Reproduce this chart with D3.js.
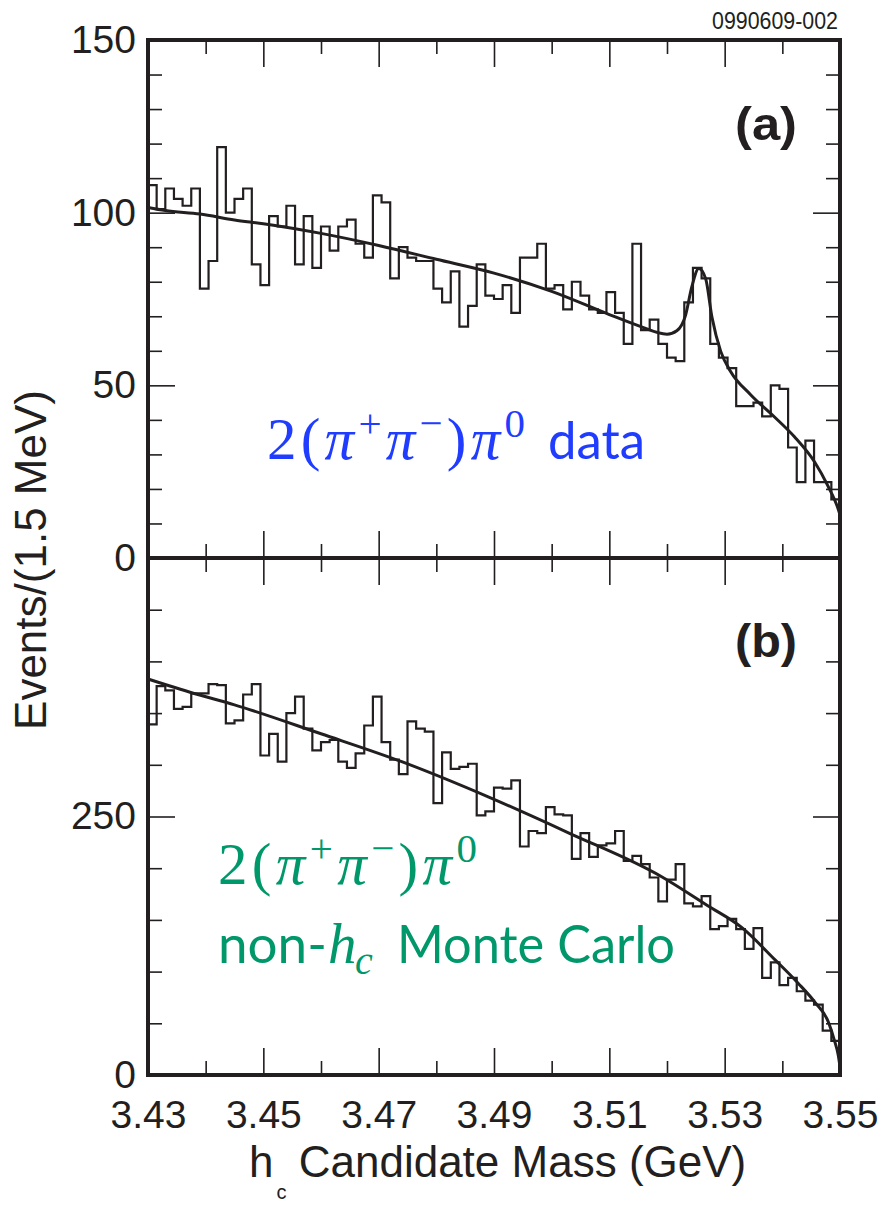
<!DOCTYPE html>
<html>
<head>
<meta charset="utf-8">
<script src="https://cdn.jsdelivr.net/npm/d3@7"></script>
<style>
  body { margin: 0; background: #fff; }
  svg text { font-family: "Liberation Sans", Arial, Helvetica, sans-serif; }
</style>
</head>
<body>
<div id="chart"></div>
<script>
// 1.5 MeV bins from 3.430 to 3.550 GeV
const binStart = 3.43;
const binWidth = 0.0015;

// (a) 2(pi+pi-)pi0 data, events per bin
const countsData = [
  108, 101, 107, 104, 102, 107, 78, 86, 119, 100,
  104, 107, 85, 79, 99, 96, 102, 85, 99, 84,
  96, 89, 96, 98, 91, 87, 105, 103, 81, 90,
  87, 86, 86, 78, 74, 83, 67, 73, 85, 76,
  75, 79, 71, 87, 87, 91, 78, 79, 72, 80,
  76, 72, 71, 77, 71, 62, 91, 66, 69, 62,
  58, 57, 74, 84, 81, 62, 58, 55, 44, 44,
  45, 41, 50, 49, 32, 22, 34, 22, 22, 17
];

// (b) non-hc Monte Carlo, events per bin
const countsMC = [
  339, 376, 372, 354, 356, 369, 369, 378, 377, 340,
  343, 368, 378, 309, 330, 303, 350, 366, 335, 314,
  322, 324, 303, 297, 311, 338, 366, 322, 305, 291,
  342, 335, 332, 263, 312, 296, 298, 301, 251, 255,
  278, 277, 285, 221, 236, 234, 259, 252, 251, 209,
  234, 211, 222, 224, 236, 207, 212, 204, 191, 168,
  189, 204, 166, 163, 173, 141, 144, 151, 141, 122,
  142, 94, 109, 87, 94, 81, 72, 68, 43, 33
];

// fitted curves
const fitDataX = [3.430, 3.433, 3.439, 3.445, 3.450, 3.460, 3.470, 3.480, 3.490, 3.500,
  3.510, 3.515, 3.520, 3.5217, 3.5232, 3.5243, 3.5255, 3.5267, 3.5278, 3.5293,
  3.5310, 3.5345, 3.5386, 3.5421, 3.5456, 3.5479, 3.5497, 3.5500];
const fitDataY = [101.5, 100.6, 99.6, 97.9, 96.8, 94.0, 90.5, 86.5, 82.5, 77.2,
  70.5, 67.3, 64.8, 65.8, 70.2, 78.5, 83.8, 80.9, 69.7, 59.9,
  54.1, 47.3, 40.9, 35.1, 27.8, 20.9, 14.1, 12.5];

const fitMCX = [3.430, 3.438, 3.445, 3.460, 3.474, 3.489, 3.503, 3.519, 3.527, 3.533,
  3.5387, 3.5427, 3.5457, 3.548, 3.549, 3.5497, 3.550];
const fitMCY = [383, 369, 358, 330, 303, 269, 234, 192, 164, 142.5,
  111.6, 89, 70, 51, 34, 19, 8];

// ticks
const xMajor = [3.43, 3.45, 3.47, 3.49, 3.51, 3.53, 3.55];
const xMinor = [3.44, 3.46, 3.48, 3.50, 3.52, 3.54];
const yMajorA = [0, 50, 100, 150];
const yMinorA = [10, 20, 30, 40, 60, 70, 80, 90, 110, 120, 130, 140];
const yMajorB = [0, 250, 500];
const yMinorB = [50, 100, 150, 200, 300, 350, 400, 450];

const ink = "#231f20";
const W = 881, H = 1206;

const svg = d3.select("#chart").append("svg")
  .attr("width", W)
  .attr("height", H);

const x = d3.scaleLinear().domain([3.43, 3.55]).range([148, 840]);
const yA = d3.scaleLinear().domain([0, 150]).range([558, 40]);
const yB = d3.scaleLinear().domain([0, 500]).range([1075, 558]);

function histPoints(counts) {
  const pts = counts.map((c, i) => [binStart + i * binWidth, c]);
  pts.push([binStart + counts.length * binWidth, counts[counts.length - 1]]);
  return pts;
}

function drawPanel(counts, fx, fy, y) {
  const step = d3.line()
    .curve(d3.curveStepAfter)
    .x(d => x(d[0]))
    .y(d => y(d[1]));

  svg.append("path")
    .datum(histPoints(counts))
    .attr("fill", "none")
    .attr("stroke", ink)
    .attr("stroke-width", 2.2)
    .attr("d", step);

  const fit = d3.line()
    .curve(d3.curveMonotoneX)
    .x(d => x(d[0]))
    .y(d => y(d[1]));

  svg.append("path")
    .datum(fx.map((v, i) => [v, fy[i]]))
    .attr("fill", "none")
    .attr("stroke", ink)
    .attr("stroke-width", 3)
    .attr("d", fit);
}

drawPanel(countsData, fitDataX, fitDataY, yA);
drawPanel(countsMC, fitMCX, fitMCY, yB);

// ticks, all pointing inwards
function addTicks(axis, tx, ty, values, size, fmt, pad) {
  const g = svg.append("g")
    .attr("transform", `translate(${tx},${ty})`)
    .call(axis.tickValues(values).tickSize(-size).tickPadding(pad || 0)
      .tickFormat(fmt || (() => "")));
  g.select(".domain").remove();
  g.selectAll("line").attr("stroke", ink).attr("stroke-width", 1.6);
  g.selectAll("text")
    .attr("fill", ink)
    .style("font-family", "'Liberation Sans', Arial, sans-serif")
    .style("font-size", "39px");
  return g;
}

const major = 27, minor = 14;

// panel (a)
addTicks(d3.axisLeft(yA), 148, 0, yMinorA, minor);
addTicks(d3.axisLeft(yA), 148, 0, yMajorA, major, d => d, 12);
addTicks(d3.axisRight(yA), 840, 0, yMinorA, minor);
addTicks(d3.axisRight(yA), 840, 0, yMajorA, major);
addTicks(d3.axisTop(x), 0, 40, xMinor, minor);
addTicks(d3.axisTop(x), 0, 40, xMajor, major);
addTicks(d3.axisBottom(x), 0, 558, xMinor, minor);
addTicks(d3.axisBottom(x), 0, 558, xMajor, major);

// panel (b)
addTicks(d3.axisLeft(yB), 148, 0, yMinorB, minor);
addTicks(d3.axisLeft(yB), 148, 0, yMajorB, major, d => (d === 500 ? "" : d), 12);
addTicks(d3.axisRight(yB), 840, 0, yMinorB, minor);
addTicks(d3.axisRight(yB), 840, 0, yMajorB, major);
addTicks(d3.axisTop(x), 0, 558, xMinor, minor);
addTicks(d3.axisTop(x), 0, 558, xMajor, major);
addTicks(d3.axisBottom(x), 0, 1075, xMinor, minor);
addTicks(d3.axisBottom(x), 0, 1075, xMajor, major, d3.format(".2f"), 25);

// frames
[yA, yB].forEach(y => {
  svg.append("rect")
    .attr("x", x(3.43))
    .attr("y", y.range()[1])
    .attr("width", x(3.55) - x(3.43))
    .attr("height", y.range()[0] - y.range()[1])
    .attr("fill", "none")
    .attr("stroke", ink)
    .attr("stroke-width", 4);
});

// figure id
svg.append("text")
  .attr("x", 838)
  .attr("y", 29)
  .attr("text-anchor", "end")
  .attr("textLength", 126)
  .attr("lengthAdjust", "spacingAndGlyphs")
  .style("font-size", "24px")
  .attr("fill", ink)
  .text("0990609-002");

// panel letters
[["(a)", 140], ["(b)", 657]].forEach(([t, yy]) => {
  svg.append("text")
    .attr("x", 735)
    .attr("y", yy)
    .attr("textLength", 62)
    .attr("lengthAdjust", "spacingAndGlyphs")
    .style("font-size", "46px")
    .style("font-weight", "bold")
    .attr("fill", ink)
    .text(t);
});

// axis titles
svg.append("text")
  .attr("transform", "translate(46,560) rotate(-90)")
  .attr("text-anchor", "middle")
  .style("font-size", "44px")
  .attr("fill", ink)
  .text("Events/(1.5 MeV)");

const xt = svg.append("text")
  .attr("x", 249)
  .attr("y", 1177)
  .style("font-size", "44px")
  .attr("fill", ink);
xt.append("tspan").text("h");
xt.append("tspan").attr("dy", 22).attr("dx", 3).style("font-size", "20px").text("c");
xt.append("tspan").attr("dy", -22).text(" Candidate Mass (GeV)");

// channel labels
const serif = "'Liberation Serif', 'DejaVu Serif', serif";
const sans = "Lato, 'Open Sans', sans-serif";

function formula(px, py, width, color) {
  const t = svg.append("text")
    .attr("x", px)
    .attr("y", py)
    .attr("textLength", width)
    .attr("lengthAdjust", "spacing")
    .attr("fill", color)
    .style("font-family", serif)
    .style("font-size", "59px");
  const s = 22;
  const add = (txt, opts) => {
    const sp = t.append("tspan").text(txt);
    if (opts.italic) sp.style("font-style", "italic");
    if (opts.dy) sp.attr("dy", opts.dy);
    if (opts.sup) sp.style("font-size", "41px");
    return sp;
  };
  add("2(", {});
  add("π", { italic: true });
  add("+", { dy: -s, sup: true });
  add("π", { italic: true, dy: s });
  add("−", { dy: -s, sup: true });
  add(")", { dy: s });
  add("π", { italic: true });
  add("0", { dy: -s, sup: true });
  return t;
}

function word(txt, px, py, width, color) {
  const t = svg.append("text")
    .attr("x", px)
    .attr("y", py)
    .attr("fill", color)
    .style("font-family", sans)
    .style("font-size", "53px")
    .text(txt);
  if (width) t.attr("textLength", width).attr("lengthAdjust", "spacingAndGlyphs");
  return t;
}

const blue = "#1f3cff";
const green = "#00986a";

formula(267, 459, 258, blue);
word("data", 548, 459, 97, blue);

formula(218, 884, 259, green);
word("non-", 218, 963, null, green);
svg.append("text")
  .attr("x", 328)
  .attr("y", 963)
  .attr("fill", green)
  .style("font-family", serif)
  .style("font-style", "italic")
  .style("font-size", "57px")
  .text("h");
svg.append("text")
  .attr("x", 355)
  .attr("y", 974)
  .attr("fill", green)
  .style("font-family", serif)
  .style("font-style", "italic")
  .style("font-size", "40px")
  .text("c");
word("Monte Carlo", 397, 963, 278, green);
</script>
</body>
</html>
